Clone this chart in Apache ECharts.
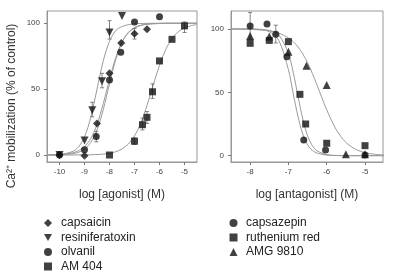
<!DOCTYPE html>
<html>
<head>
<meta charset="utf-8">
<script src="https://cdn.jsdelivr.net/npm/echarts@6.0.0/dist/echarts.min.js"></script>
<style>
  html, body { margin: 0; padding: 0; background: #fff; }
  #main { width: 400px; height: 275px; }
</style>
</head>
<body>
<div id="main"></div>
<script>
// tick labels
const agonistTicks = [-10, -9, -8, -7, -6, -5];
const antagonistTicks = [-8, -7, -6, -5];
const percentTicks = [0, 50, 100];

// measured points, [log M, % of control]
const capsaicin = [[-10, 0], [-9, -0.5], [-8.5, 24], [-8, 62], [-7.53, 85], [-7, 92], [-6.5, 95.5]];
const resiniferatoxin = [[-10, 0], [-9, 11], [-8.69, 34], [-8.3, 56], [-8, 93], [-7.5, 105.5]];
const olvanil = [[-10, 0], [-9, 4], [-8.53, 14], [-8, 57], [-7.55, 78], [-7, 101], [-6, 105]];
const am404 = [[-8, 0], [-7, 10.5], [-6.68, 23], [-6.5, 28.6], [-6.28, 48], [-6, 71.4], [-5.5, 87.8], [-5, 98]];

const capsazepin = [[-8, 102.4], [-7.56, 104], [-7.33, 95.8], [-7.04, 78], [-6.6, 12.4], [-6.03, 4.5], [-5, 0.5]];
const rutheniumRed = [[-8, 88.7], [-7.5, 91], [-7, 90], [-6.7, 48.4], [-6.55, 25], [-6, 9.8], [-5, 7.9]];
const amg9810 = [[-8, 94.5], [-7.5, 94], [-7, 82], [-6.53, 71], [-6, 55.8], [-5.5, 1.1], [-5, 1.1]];

// error bars [log M, low, high]
const agonistErr = [[-8.69, 29, 40], [-8.3, 51, 62], [-8, 88, 102], [-7, 88, 96], [-8.53, 10, 18],
  [-7, 8, 13], [-6.68, 19, 28], [-6.5, 24, 33], [-6.28, 43, 54], [-5, 93, 101]];
const antagonistErr = [[-8, 92, 113], [-7.33, 89, 103]];

// fitted curves
const agonistCurveX = [-10.5, -10, -9.5, -9.25, -9, -8.75, -8.5, -8.25, -8, -7.75, -7.5, -7.25, -7,
  -6.75, -6.5, -6.25, -6, -5.75, -5.5, -5.25, -5, -4.75, -4.5];
const capsaicinFit = [0.1, 0.3, 1.5, 3.2, 6.3, 12.5, 23.2, 39, 57.4, 74, 85.8, 92.7, 96.4, 98.3, 99.2, 99.6, 99.8, 99.9, 100, 100, 100, 100, 100];
const resiniferatoxinFit = [0.1, 0.4, 2.5, 5.9, 13.7, 28.5, 50, 71.5, 86.3, 94.4, 97.5, 98.9, 99.6, 99.8, 99.9, 100, 100, 100, 100, 100, 100, 100, 100];
const olvanilFit = [0, 0.2, 0.9, 2, 4.5, 9.5, 19, 34.4, 54, 72.5, 85.5, 93, 96.7, 98.5, 99.3, 99.7, 99.9, 100, 100, 100, 100, 100, 100];
const am404Fit = [0, 0, 0, 0.1, 0.1, 0.2, 0.4, 0.7, 1.3, 2.5, 4.6, 8.3, 14.5, 24.2, 37.6, 53.2, 68, 80.1, 88.4, 93.5, 96.4, 98.1, 99];

const antagonistCurveX = [-8.5, -8.25, -8, -7.75, -7.5, -7.25, -7, -6.875, -6.75, -6.625, -6.5, -6.375, -6.25,
  -6, -5.75, -5.5, -5.25, -5, -4.75, -4.5];
const capsazepinFit = [100, 100, 99.9, 99.6, 97.9, 90.9, 67.8, 49, 30.8, 17, 8.6, 4.1, 2, 0.4, 0.1, 0, 0, 0, 0, 0];
const rutheniumRedFit = [100, 100, 100, 99.8, 98.9, 95.2, 80.7, 65.8, 46.9, 28.9, 15.7, 7.9, 3.8, 0.8, 0.2, 0, 0, 0, 0, 0];
const amg9810Fit = [99.9, 99.9, 99.7, 99.3, 98.5, 96.7, 93, 90, 85.8, 80.3, 73.3, 64.9, 55.5, 36.2, 20.5, 10.5, 5.1, 2.4, 1.1, 0.5];

const FONT = 'Liberation Sans, Arial, sans-serif';
const triDown = 'path://M0,0L10,0L5,9Z';

const chart = echarts.init(document.getElementById('main'), null, { renderer: 'canvas' });

function zip(xs, ys) {
  return xs.map((x, i) => [x, ys[i]]);
}

function scatter(name, data, symbol, size, idx) {
  return {
    name: name, type: 'scatter', data: data, symbol: symbol, symbolSize: size,
    xAxisIndex: idx, yAxisIndex: idx, itemStyle: { color: '#111' }, z: 5
  };
}

function fit(name, xs, ys, idx) {
  return {
    name: name, type: 'line', data: zip(xs, ys), smooth: 0.3, showSymbol: false, symbol: 'none',
    xAxisIndex: idx, yAxisIndex: idx, lineStyle: { color: '#9a9a9a', width: 1 }, silent: true, z: 3
  };
}

function renderErr(params, api) {
  const lo = api.coord([api.value(0), api.value(1)]);
  const hi = api.coord([api.value(0), api.value(2)]);
  const w = 2;
  const st = { stroke: '#666', lineWidth: 0.8 };
  return {
    type: 'group',
    children: [
      { type: 'line', shape: { x1: hi[0], y1: hi[1], x2: lo[0], y2: lo[1] }, style: st },
      { type: 'line', shape: { x1: hi[0] - w, y1: hi[1], x2: hi[0] + w, y2: hi[1] }, style: st },
      { type: 'line', shape: { x1: lo[0] - w, y1: lo[1], x2: lo[0] + w, y2: lo[1] }, style: st }
    ]
  };
}

function xAxis(idx, min, max, ticks, name) {
  return {
    gridIndex: idx, type: 'value', min: min, max: max,
    name: name, nameLocation: 'middle', nameGap: 27,
    nameTextStyle: { fontFamily: FONT, fontSize: 12, color: '#333' },
    axisLine: { onZero: false, lineStyle: { color: '#999' } },
    axisTick: { length: 3, lineStyle: { color: '#777' }, customValues: ticks },
    axisLabel: { fontFamily: FONT, fontSize: 8, color: '#444', margin: 6, customValues: ticks },
    splitLine: { show: false }
  };
}

function yAxis(idx, min, max) {
  return {
    gridIndex: idx, type: 'value', min: min, max: max,
    axisLine: { onZero: false, lineStyle: { color: '#999' } },
    axisTick: { length: 3, lineStyle: { color: '#777' }, customValues: percentTicks },
    axisLabel: { fontFamily: FONT, fontSize: 8, color: '#444', margin: 7, customValues: percentTicks },
    splitLine: { show: false }
  };
}

// one vertical legend column; text padding pushes the label away from the icon
function legend(left, textGap, names) {
  return {
    orient: 'vertical', left: left, top: 217, height: 80, padding: 0, data: names,
    itemWidth: 8, itemHeight: 8, itemGap: 2.5,
    textStyle: { fontFamily: FONT, fontSize: 12, color: '#222', lineHeight: 12, padding: [0, 0, 0, textGap] }
  };
}

const option = {
  backgroundColor: '#fff',
  animation: false,
  grid: [
    { left: 47, top: 11, width: 150, height: 151, show: true, borderColor: '#999', borderWidth: 1 },
    { left: 231, top: 11, width: 152, height: 151, show: true, borderColor: '#999', borderWidth: 1 }
  ],
  xAxis: [
    xAxis(0, -10.5, -4.5, agonistTicks, 'log [agonist] (M)'),
    xAxis(1, -8.5, -4.53, antagonistTicks, 'log [antagonist] (M)')
  ],
  yAxis: [yAxis(0, -5.3, 109.3), yAxis(1, -5, 114.2)],
  legend: [
    legend(44, 4, ['capsaicin', 'resiniferatoxin', 'olvanil', 'AM 404']),
    legend(229.5, 3.5, ['capsazepin', 'ruthenium red', 'AMG 9810'])
  ],
  graphic: [{
    type: 'text', x: 12, y: 106, rotation: Math.PI / 2,
    style: {
      text: 'Ca²⁺ mobilization (% of control)', fontFamily: FONT, fontSize: 12, fill: '#333',
      align: 'center', verticalAlign: 'middle'
    }
  }],
  series: [
    fit('capsaicin fit', agonistCurveX, capsaicinFit, 0),
    fit('resiniferatoxin fit', agonistCurveX, resiniferatoxinFit, 0),
    fit('olvanil fit', agonistCurveX, olvanilFit, 0),
    fit('AM 404 fit', agonistCurveX, am404Fit, 0),
    fit('capsazepin fit', antagonistCurveX, capsazepinFit, 1),
    fit('ruthenium red fit', antagonistCurveX, rutheniumRedFit, 1),
    fit('AMG 9810 fit', antagonistCurveX, amg9810Fit, 1),
    {
      type: 'custom', renderItem: renderErr, data: agonistErr, xAxisIndex: 0, yAxisIndex: 0,
      encode: { x: 0, y: [1, 2] }, silent: true, z: 4
    },
    {
      type: 'custom', renderItem: renderErr, data: antagonistErr, xAxisIndex: 1, yAxisIndex: 1,
      encode: { x: 0, y: [1, 2] }, silent: true, z: 4
    },
    scatter('capsaicin', capsaicin, 'diamond', 8, 0),
    scatter('resiniferatoxin', resiniferatoxin, triDown, 8, 0),
    scatter('olvanil', olvanil, 'circle', 7, 0),
    scatter('AM 404', am404, 'rect', 7, 0),
    scatter('capsazepin', capsazepin, 'circle', 7, 1),
    scatter('ruthenium red', rutheniumRed, 'rect', 7, 1),
    scatter('AMG 9810', amg9810, 'triangle', 8, 1)
  ]
};

chart.setOption(option);
</script>
</body>
</html>
